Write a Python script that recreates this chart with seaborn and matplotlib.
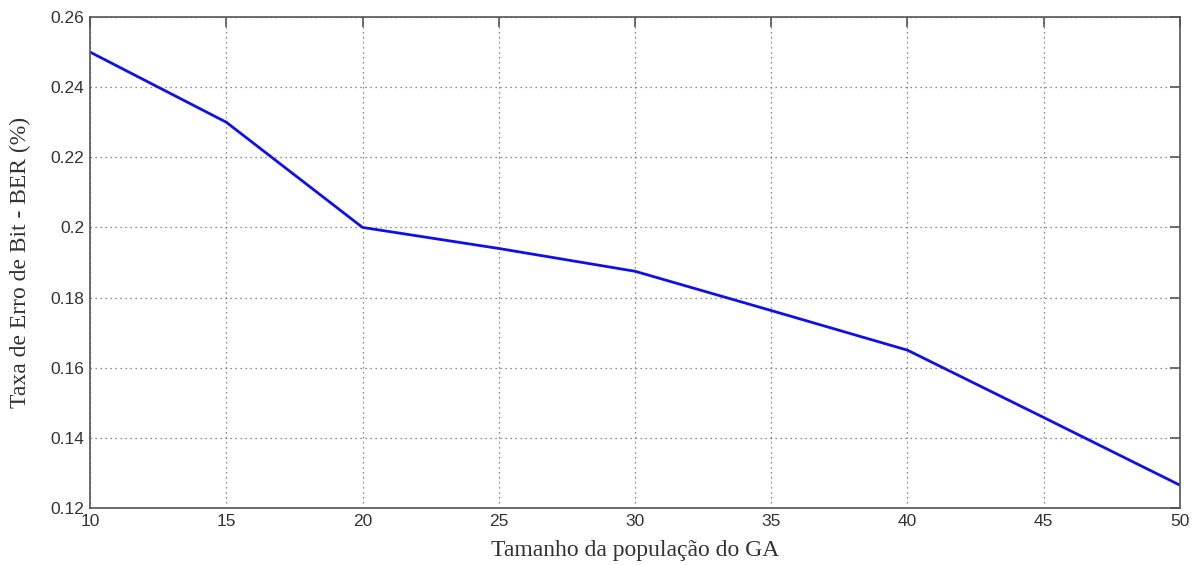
import pandas as pd
import seaborn as sns
from matplotlib import pyplot as plt

# values
pop_size = [10, 15, 20, 25, 30, 35, 40, 45, 50]
ber = [0.25, 0.23, 0.2, 0.194, 0.1875, 0.1763, 0.165, 0.1458, 0.1265]
x_ticks = [10, 15, 20, 25, 30, 35, 40, 45, 50]
y_ticks = [0.12, 0.14, 0.16, 0.18, 0.2, 0.22, 0.24, 0.26]
y_tick_labels = ["0.12", "0.14", "0.16", "0.18", "0.2", "0.22", "0.24", "0.26"]

df = pd.DataFrame({"pop": pop_size, "ber": ber})

sns.set_style("white")
plt.rcParams["font.family"] = ["Liberation Sans", "DejaVu Sans"]

fig = plt.figure(figsize=(11.96, 5.65), dpi=100)
ax = fig.add_axes([0.0753, 0.1009, 0.9113, 0.869])

sns.lineplot(data=df, x="pop", y="ber", color="#1010e6", linewidth=2.0, ax=ax)

ax.set_xlim(10, 50)
ax.set_ylim(0.12, 0.26)
ax.set_xticks(x_ticks)
ax.set_xticklabels([str(t) for t in x_ticks])
ax.set_yticks(y_ticks)
ax.set_yticklabels(y_tick_labels)
ax.grid(True, linestyle=(0, (1, 3)), color="#666666", linewidth=0.9)

for side in ax.spines.values():
    side.set_color("#555555")
    side.set_linewidth(1.2)

ax.tick_params(direction="in", length=7, width=1.2, color="#555555",
               top=True, right=True, labelsize=12.5, labelcolor="#333333", pad=4)

ax.set_xlabel("Tamanho da população do GA", family=["Liberation Serif", "DejaVu Serif"],
              fontsize=17, color="#333333", labelpad=8)
ax.set_ylabel("Taxa de Erro de Bit - BER (%)", family=["Liberation Serif", "DejaVu Serif"],
              fontsize=17, color="#333333", labelpad=14)

fig.savefig("out.png", dpi=100)
